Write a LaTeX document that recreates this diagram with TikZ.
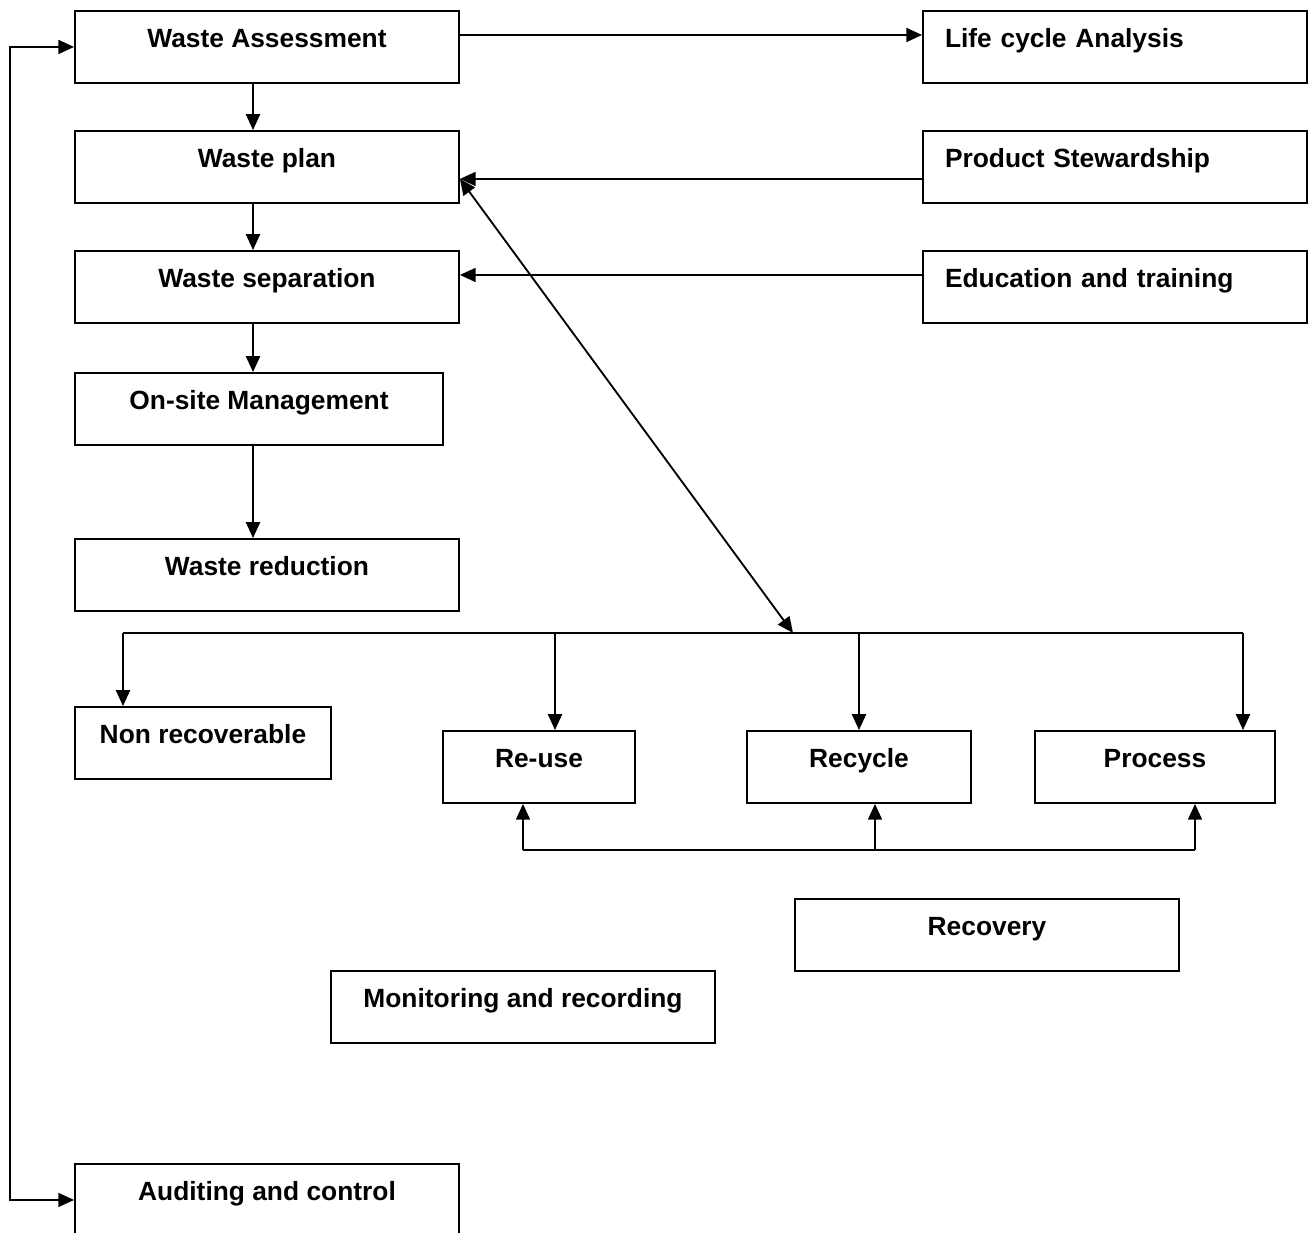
\documentclass[tikz,border=0pt]{standalone}
\usepackage{fontspec}
\setmainfont{Liberation Sans}
\usetikzlibrary{positioning,arrows.meta}
\tikzstyle{box}=[draw, line width=1.1pt, anchor=north, inner xsep=0pt, inner ysep=0pt, text height=0.73cm, text depth=0.71cm, font=\fontsize{15}{18}\selectfont\bfseries]
\tikzstyle{wide}=[minimum width=7.68cm]
\tikzstyle{side}=[inner xsep=0.44cm, text width=6.8cm, align=left]
\tikzstyle{line}=[-, line width=1.05pt]
\tikzstyle{arr}=[-{Triangle[length=9pt,width=8pt]}, line width=1.05pt]
\tikzstyle{both}=[{Triangle[length=9pt,width=8pt]}-{Triangle[length=9pt,width=8pt]}, line width=1.05pt]

\begin{document}
\begin{tikzpicture}[x=0.02cm, y=-0.02cm]
        \useasboundingbox (0,0) rectangle (1316,1233);
        \clip (0,0) rectangle (1316,1233);
        % left column
        \node[box, wide] (wa) at (267,10) {Waste Assessment};
        \node[box, wide] (wp) at (267,130) {Waste plan};
        \node[box, wide] (ws) at (267,250) {Waste separation};
        \node[box, minimum width=7.36cm] (om) at (259,372) {On-site Management};
        \node[box, wide] (wr) at (267,538) {Waste reduction};
        % right column
        \node[box, side] (lca) at (1115,10) {Life cycle Analysis};
        \node[box, side] (ps) at (1115,130) {Product Stewardship};
        \node[box, side] (edu) at (1115,250) {Education and training};
        % options
        \node[box, minimum width=5.12cm] (nr) at (203,706) {Non recoverable};
        \node[box, minimum width=3.84cm] (ru) at (539,730) {Re-use};
        \node[box, minimum width=4.48cm] (rc) at (859,730) {Recycle};
        \node[box, minimum width=4.8cm] (pr) at (1155,730) {Process};
        \node[box, wide] (rv) at (987,898) {Recovery};
        \node[box, wide] (mr) at (523,970) {Monitoring and recording};
        \node[box, wide] (ac) at (267,1163) {Auditing and control};

        \coordinate (spine) at (253,0);
        \coordinate (loop) at (10,0);
        \coordinate (split) at (793,633);
        \coordinate (b1) at (123,633);
        \coordinate (b2) at (555,633);
        \coordinate (b3) at (859,633);
        \coordinate (b4) at (1243,633);
        \coordinate (u1) at (523,850);
        \coordinate (u2) at (875,850);
        \coordinate (u3) at (1195,850);

        \draw[arr] (wa.south -| spine) -- (wp.north -| spine);
        \draw[arr] (wp.south -| spine) -- (ws.north -| spine);
        \draw[arr] (ws.south -| spine) -- (om.north -| spine);
        \draw[arr] (om.south -| spine) -- (wr.north -| spine);

        \draw[arr] ([yshift=0.24cm]wa.east) -- ([yshift=0.24cm]lca.west);
        \draw[arr] ([yshift=-0.24cm]ps.west) -- ([yshift=-0.24cm]wp.east);
        \draw[arr] ([yshift=0.24cm]edu.west) -- ([yshift=0.24cm]ws.east);
        \draw[both] ([yshift=-0.24cm]wp.east) -- (split);

        \draw[line] (b1) -- (b4);
        \draw[arr] (b1) -- (b1 |- nr.north);
        \draw[arr] (b2) -- (b2 |- ru.north);
        \draw[arr] (b3) -- (b3 |- rc.north);
        \draw[arr] (b4) -- (b4 |- pr.north);

        \draw[line] (u1) -- (u3);
        \draw[arr] (u1) -- (u1 |- ru.south);
        \draw[arr] (u2) -- (u2 |- rc.south);
        \draw[arr] (u3) -- (u3 |- pr.south);

        \draw[both] (wa.west) -- (wa.west -| loop) -- (ac.west -| loop) -- (ac.west);
    \end{tikzpicture}
\end{document}
